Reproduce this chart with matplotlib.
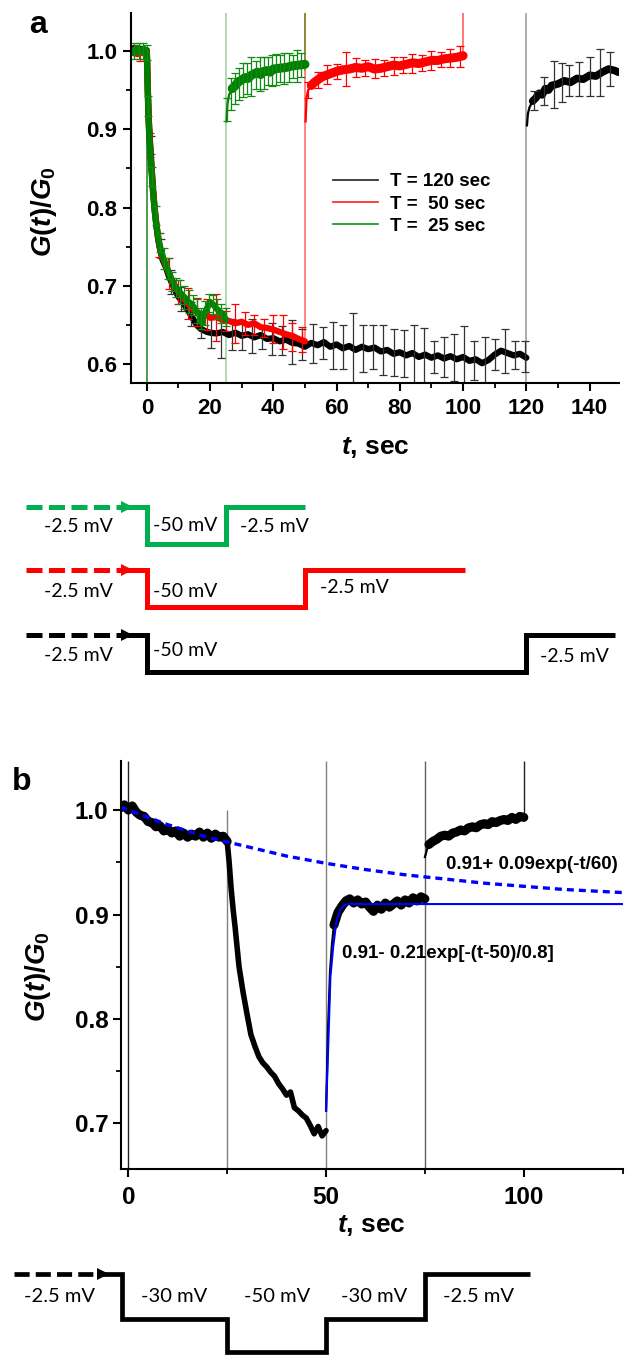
import numpy as np
import matplotlib
matplotlib.use("Agg")
from matplotlib import pyplot as plt
from matplotlib.lines import Line2D
from matplotlib.ticker import MultipleLocator, FormatStrFormatter

plt.rcParams["font.family"] = ["Liberation Sans", "DejaVu Sans"]
plt.rcParams["font.weight"] = "bold"
plt.rcParams["mathtext.fontset"] = "custom"
plt.rcParams["mathtext.rm"] = "Liberation Sans:bold"
plt.rcParams["mathtext.it"] = "Liberation Sans:italic:bold"
plt.rcParams["mathtext.bf"] = "Liberation Sans:bold"
plt.rcParams["axes.linewidth"] = 1.5

# ---- panel a: relaxation curves (T = 120, 50, 25 sec) ----
blk_drop_t = [-5, -4, -3, -2, -1, 0, 0.3, 0.6, 1, 1.5, 2, 2.5, 3, 3.5, 4,
              5, 6, 7, 8, 9, 10, 11, 12, 13, 14, 15, 16, 17, 18, 19, 20]
blk_drop_g = [1.000, 1.004, 0.997, 1.003, 0.998, 1.001, 0.955, 0.915, 0.885,
              0.852, 0.822, 0.798, 0.778, 0.762, 0.750, 0.733, 0.724, 0.712,
              0.703, 0.694, 0.686, 0.681, 0.675, 0.669, 0.662, 0.655, 0.649,
              0.645, 0.643, 0.641, 0.640]
blk_plat_t = list(range(22, 121, 2))
blk_plat_g = [0.639, 0.641, 0.637, 0.640, 0.636, 0.638, 0.634, 0.637, 0.632, 0.633,
              0.629, 0.631, 0.627, 0.626, 0.622, 0.627, 0.624, 0.628, 0.622, 0.625,
              0.620, 0.623, 0.618, 0.622, 0.619, 0.621, 0.616, 0.618, 0.613, 0.615,
              0.611, 0.614, 0.609, 0.612, 0.608, 0.611, 0.607, 0.610, 0.606, 0.609,
              0.604, 0.606, 0.601, 0.605, 0.612, 0.617, 0.614, 0.611, 0.613, 0.608]
blk_rec_t = [120.2, 120.5, 121, 122, 123, 124, 125, 126, 127, 128,
             130, 132, 134, 136, 138, 140, 142, 144, 146, 148, 149]
blk_rec_g = [0.905, 0.920, 0.928, 0.936, 0.940, 0.946, 0.944, 0.952, 0.950, 0.956,
             0.958, 0.962, 0.960, 0.965, 0.964, 0.969, 0.968, 0.973, 0.977, 0.975, 0.973]

red_drop_t = [-5, -4, -3, -2, -1, 0, 0.3, 0.6, 1, 1.5, 2, 2.5, 3, 3.5, 4,
              5, 6, 7, 8, 9, 10, 11, 12, 13, 14, 15, 16, 17, 18, 19, 20] + list(range(22, 51, 2))
red_drop_g = [0.998, 1.002, 0.996, 1.001, 0.997, 1.000, 0.950, 0.910, 0.880,
              0.850, 0.820, 0.797, 0.780, 0.765, 0.752, 0.736, 0.726, 0.716,
              0.707, 0.699, 0.692, 0.687, 0.682, 0.677, 0.672, 0.669, 0.666,
              0.664, 0.661, 0.663, 0.659,
              0.660, 0.656, 0.655, 0.652, 0.654, 0.650, 0.652, 0.647, 0.646,
              0.644, 0.641, 0.638, 0.636, 0.632, 0.629]
red_rec_t = [50.2, 50.5, 51, 52, 53, 54, 55, 56] + list(range(58, 101, 2))
red_rec_g = [0.910, 0.940, 0.950, 0.956, 0.960, 0.963, 0.966, 0.968,
             0.971, 0.974, 0.976, 0.977, 0.979, 0.978, 0.980, 0.977, 0.978, 0.980,
             0.982, 0.981, 0.983, 0.985, 0.984, 0.986, 0.988, 0.988, 0.990, 0.991,
             0.992, 0.994]

grn_drop_t = [-5, -4, -3, -2, -1, 0, 0.3, 0.6, 1, 1.5, 2, 2.5, 3, 3.5, 4,
              5, 6, 7, 8, 9, 10, 11, 12, 13, 14, 15, 16, 17, 17.5,
              18, 19, 20, 21, 22, 23, 24, 25]
grn_drop_g = [1.001, 0.997, 1.004, 0.998, 1.003, 0.999, 0.945, 0.905, 0.875,
              0.845, 0.818, 0.795, 0.778, 0.764, 0.752, 0.738, 0.727, 0.716,
              0.706, 0.699, 0.694, 0.689, 0.685, 0.680, 0.677, 0.672, 0.666,
              0.660, 0.652, 0.662, 0.671, 0.679, 0.676, 0.671, 0.667, 0.664, 0.657]
grn_rec_t = [25.2, 25.5, 26, 27, 28, 29, 30, 31, 32, 33, 34, 35, 36, 37, 38,
             39, 40, 42, 44, 46, 48, 50]
grn_rec_g = [0.910, 0.932, 0.944, 0.952, 0.956, 0.961, 0.963, 0.966, 0.965, 0.969,
             0.971, 0.973, 0.970, 0.974, 0.975, 0.973, 0.977, 0.978, 0.979, 0.981,
             0.982, 0.983]

# error bars (time, centre, half width)
blk_eb_t = [1.2, 4.4, 7.6, 10.8, 14.0, 17.2, 20.4, 23.6, 26.8, 30.0, 33.2, 36.4,
            39.6, 42.8, 46.0, 49.2, 52.4, 55.6, 58.8, 62.0, 65.2, 68.4, 71.6, 74.8,
            78.0, 81.2, 84.4, 87.6, 90.8, 94.0, 97.2, 100.4, 103.6, 106.8, 110.0,
            113.2, 116.4, 119.6, 122.3, 125.5, 128.6, 131.2, 133.6, 136.8, 140.0,
            143.2, 146.3]
blk_eb_g = [0.880, 0.748, 0.705, 0.683, 0.664, 0.646, 0.640, 0.638, 0.638, 0.636,
            0.636, 0.634, 0.632, 0.630, 0.628, 0.625, 0.626, 0.627, 0.624, 0.622,
            0.620, 0.620, 0.622, 0.618, 0.615, 0.613, 0.612, 0.611, 0.609, 0.609,
            0.608, 0.607, 0.605, 0.604, 0.612, 0.617, 0.612, 0.610,
            0.937, 0.949, 0.957, 0.960, 0.962, 0.964, 0.968, 0.973, 0.977]
blk_eb_e = [0.012, 0.012, 0.015, 0.015, 0.015, 0.013, 0.020, 0.030, 0.020, 0.018,
            0.022, 0.015, 0.020, 0.018, 0.028, 0.020, 0.025, 0.020, 0.030, 0.028,
            0.045, 0.030, 0.028, 0.032, 0.030, 0.030, 0.038, 0.035, 0.020, 0.025,
            0.030, 0.042, 0.025, 0.030, 0.020, 0.028, 0.018, 0.020,
            0.012, 0.018, 0.030, 0.025, 0.020, 0.022, 0.025, 0.030, 0.022]

red_eb_t = [-2, 1, 4, 7, 10, 13, 16, 19, 22, 25, 28, 31, 34, 37, 40, 43, 46, 49,
            51, 54, 57, 60, 63, 66, 69, 72, 75, 78, 81, 84, 87, 90, 93, 96, 99]
red_eb_g = [0.995, 0.880, 0.752, 0.716, 0.692, 0.677, 0.666, 0.663, 0.660, 0.655,
            0.652, 0.652, 0.650, 0.646, 0.645, 0.641, 0.635, 0.631,
            0.950, 0.963, 0.970, 0.974, 0.977, 0.979, 0.978, 0.978, 0.978, 0.981,
            0.982, 0.984, 0.985, 0.988, 0.989, 0.991, 0.993]
red_eb_e = [0.008, 0.015, 0.015, 0.020, 0.015, 0.020, 0.018, 0.020, 0.030, 0.013,
            0.025, 0.015, 0.013, 0.012, 0.018, 0.022, 0.018, 0.016,
            0.010, 0.010, 0.012, 0.010, 0.022, 0.012, 0.010, 0.012, 0.010, 0.012,
            0.010, 0.012, 0.010, 0.012, 0.010, 0.012, 0.013]

grn_eb_t = [-3.9, -2.6, -1.3, 0.0, 0.5, 1.5, 2.8, 4.1, 5.4, 6.7, 8.0, 9.3, 10.6,
            11.9, 13.2, 14.5, 15.8, 17.1, 18.4, 19.7, 21.0, 22.3, 23.6, 24.9,
            25.3, 26.5, 27.9, 29.2, 30.5, 31.8, 33.1, 34.4, 35.7, 37.0, 38.3, 39.6,
            40.9, 42.2, 43.5, 44.8, 46.1, 47.4, 48.7]
grn_eb_g = [1.000, 1.000, 1.000, 0.998, 0.930, 0.840, 0.790, 0.755, 0.735, 0.722,
            0.705, 0.698, 0.692, 0.685, 0.680, 0.675, 0.668, 0.658, 0.665, 0.678,
            0.676, 0.670, 0.665, 0.660,
            0.925, 0.945, 0.952, 0.958, 0.963, 0.965, 0.967, 0.969, 0.971, 0.972,
            0.974, 0.975, 0.976, 0.978, 0.978, 0.979, 0.980, 0.981, 0.982]
grn_eb_e = [0.010, 0.010, 0.010, 0.010, 0.013, 0.012, 0.012, 0.012, 0.013, 0.013,
            0.012, 0.012, 0.015, 0.015, 0.015, 0.013, 0.015, 0.013, 0.015, 0.012,
            0.012, 0.013, 0.012, 0.012,
            0.015, 0.020, 0.020, 0.020, 0.022, 0.020, 0.025, 0.018, 0.022, 0.020,
            0.018, 0.020, 0.020, 0.017, 0.020, 0.018, 0.015, 0.020, 0.015]

legend_labels = ["T = 120 sec", "T =  50 sec", "T =  25 sec"]

# ---- panel b: double-step experiment ----
b_t1 = list(range(-2, 26))
b_g1 = [1.002, 1.005, 1.000, 1.004, 0.998, 0.995, 0.994, 0.989, 0.988, 0.984,
        0.985, 0.980, 0.982, 0.978, 0.980, 0.975, 0.978, 0.974, 0.977, 0.975,
        0.979, 0.974, 0.978, 0.973, 0.977, 0.974, 0.975, 0.970]
b_t2 = [25, 25.5, 26, 26.5, 27] + list(range(28, 51))
b_g2 = [0.970, 0.950, 0.925, 0.905, 0.888, 0.850, 0.826, 0.805, 0.785, 0.774,
        0.764, 0.758, 0.754, 0.749, 0.745, 0.738, 0.733, 0.727, 0.730, 0.715,
        0.712, 0.708, 0.705, 0.698, 0.690, 0.697, 0.688, 0.693]
b_t3 = [50, 50.5, 51, 51.5, 52] + list(range(53, 76))
b_g3 = [0.712, 0.790, 0.845, 0.872, 0.890, 0.902, 0.908, 0.913, 0.915, 0.911,
        0.914, 0.910, 0.912, 0.907, 0.903, 0.909, 0.905, 0.911, 0.907, 0.910,
        0.913, 0.909, 0.914, 0.911, 0.916, 0.913, 0.917, 0.915]
b_t4 = [75, 75.5] + list(range(76, 101))
b_g4 = [0.955, 0.962, 0.967, 0.970, 0.972, 0.975, 0.976, 0.975, 0.978, 0.979,
        0.981, 0.980, 0.983, 0.984, 0.983, 0.986, 0.987, 0.986, 0.989, 0.988,
        0.990, 0.991, 0.990, 0.993, 0.991, 0.994, 0.993]

fit_slow_t = [-2, 0, 10, 20, 30, 40, 50, 60, 70, 80, 90, 100, 110, 120, 125]
fit_slow_g = [1.003, 1.000, 0.986, 0.974, 0.965, 0.956, 0.949, 0.943, 0.938,
              0.934, 0.930, 0.927, 0.924, 0.922, 0.921]
fit_fast_t = [50, 50.6, 51.1, 51.8, 52.6, 53.6, 54.6, 56, 125]
fit_fast_g = [0.712, 0.780, 0.840, 0.869, 0.893, 0.905, 0.909, 0.910, 0.910]
fit_slow_label = "0.91+ 0.09exp(-t/60)"
fit_fast_label = "0.91- 0.21exp[-(t-50)/0.8]"

# ---- voltage protocols ----
prot_a_switch = [[0, 25], [0, 50], [0, 120]]
prot_a_end = [50, 100.5, 148]
prot_a_levels = [-2.5, -50, -2.5]
prot_b_switch = [-1.5, 25, 50, 75]
prot_b_levels = [-2.5, -30, -50, -30, -2.5]
prot_b_end = 101.5

W, H = 628, 1356
fig = plt.figure(figsize=(W / 100, H / 100), dpi=100)


def px_box(left, top, right, bottom):
    return [left / W, 1 - bottom / H, (right - left) / W, (bottom - top) / H]


def style_axes(ax, size):
    for side in ["top", "right"]:
        ax.spines[side].set_visible(False)
    ax.tick_params(which="major", direction="out", length=5.8, width=1.5,
                   labelsize=size)
    ax.tick_params(which="minor", direction="out", length=3.6, width=1.3)
    ax.yaxis.set_major_formatter(FormatStrFormatter("%.1f"))


def noisy_trace(ax, t, g, color, lw, skip=0):
    # thin line through the fast part, thick band (noise) after it
    ax.plot(t, g, color=color, lw=1.6, solid_joinstyle="round")
    ax.plot(t[skip:], g[skip:], color=color, lw=lw, solid_joinstyle="round",
            solid_capstyle="round")


# ---- panel a ----
ax_a = fig.add_axes(px_box(131, 12.7, 619, 383))
ax_a.set_xlim(-5, 149.3)
ax_a.set_ylim(0.5757, 1.049)
style_axes(ax_a, 16)
ax_a.tick_params(axis="x", pad=5)
ax_a.tick_params(axis="y", pad=4)
ax_a.xaxis.set_major_locator(MultipleLocator(20))
ax_a.xaxis.set_minor_locator(MultipleLocator(10))
ax_a.yaxis.set_major_locator(MultipleLocator(0.1))
ax_a.yaxis.set_minor_locator(MultipleLocator(0.05))

y_lo, y_hi = ax_a.get_ylim()
ax_a.vlines(0, y_lo, 1.0, color="#2e8b2e", lw=1.2)
ax_a.vlines(25, y_lo, y_hi, color="#a8d0a8", lw=1.2)
ax_a.vlines(50, 0.63, y_hi, color="#ff7070", lw=1.2)
ax_a.vlines(50, 0.975, y_hi, color="#7a8a30", lw=1.2)
ax_a.vlines(100, 0.99, y_hi, color="#ff6060", lw=1.2)
ax_a.vlines(120, y_lo, y_hi, color="#a0a0a0", lw=1.2)

series = [
    ("black", "#333333", [(blk_drop_t + blk_plat_t, blk_drop_g + blk_plat_g, 4.5, 0),
                          (blk_rec_t, blk_rec_g, 5.5, 3)], (blk_eb_t, blk_eb_g, blk_eb_e)),
    ("#ff0000", "#ff0000", [(red_drop_t, red_drop_g, 4.5, 0),
                            (red_rec_t, red_rec_g, 6.5, 3)],
     (red_eb_t, red_eb_g, red_eb_e)),
    ("#008000", "#108a10", [(grn_drop_t, grn_drop_g, 4.5, 0),
                            (grn_rec_t, grn_rec_g, 6.5, 3)],
     (grn_eb_t, grn_eb_g, grn_eb_e)),
]
for color, ecolor, segments, (et, eg, ee) in series:
    for t, g, lw, skip in segments:
        noisy_trace(ax_a, t, g, color, lw, skip)
    ax_a.errorbar(et, eg, yerr=ee, fmt="none", ecolor=ecolor, elinewidth=0.9,
                  capsize=3, capthick=0.9)

ax_a.set_xlabel(r"$t$, sec", fontsize=19, fontweight="bold")
ax_a.xaxis.set_label_coords(0.5, -0.173)
ax_a.xaxis.label.set_va("center")
ax_a.set_ylabel(r"$G(t)/G_0$", fontsize=20)
ax_a.yaxis.set_label_coords(-0.178, 0.462)
ax_a.yaxis.label.set_va("center")

handles = [Line2D([], [], color=c, lw=1.3) for c in ["#333333", "#ff3030", "#20a020"]]
ax_a.legend(handles, legend_labels, loc="center left",
            bbox_to_anchor=(333 / W, 1 - 204 / H), bbox_transform=fig.transFigure,
            frameon=False, borderpad=0, borderaxespad=0, handlelength=2.4,
            handletextpad=0.65, labelspacing=0.28,
            prop={"weight": "bold", "size": 13.5})

fig.text(38 / W, 1 - 33 / H, "a", fontsize=23, fontweight="bold",
         ha="center", va="baseline")

# ---- panel b ----
ax_b = fig.add_axes(px_box(120.7, 761, 622.7, 1169.3))
ax_b.set_xlim(-1.92, 125)
ax_b.set_ylim(0.656, 1.047)
style_axes(ax_b, 17.5)
ax_b.tick_params(axis="x", pad=6)
ax_b.tick_params(axis="y", pad=3)
ax_b.xaxis.set_major_locator(MultipleLocator(50))
ax_b.xaxis.set_minor_locator(MultipleLocator(25))
ax_b.yaxis.set_major_locator(MultipleLocator(0.1))
ax_b.yaxis.set_minor_locator(MultipleLocator(0.05))

yb_lo, yb_hi = ax_b.get_ylim()
ax_b.vlines(0, yb_lo, yb_hi, color="#222222", lw=1.0)
ax_b.vlines(25, yb_lo, 1.0, color="#808080", lw=1.0)
ax_b.vlines(50, yb_lo, yb_hi, color="#808080", lw=1.0)
ax_b.vlines(75, yb_lo, yb_hi, color="#606060", lw=1.0)
ax_b.vlines(100, 0.99, yb_hi, color="#202020", lw=1.0)

for t, g, lw, skip in [(b_t1, b_g1, 6.5, 0), (b_t2, b_g2, 4.0, 0),
                       (b_t3, b_g3, 6.5, 4), (b_t4, b_g4, 6.5, 2)]:
    noisy_trace(ax_b, t, g, "black", lw, skip)
ax_b.plot(fit_slow_t, fit_slow_g, color="#0000ff", lw=2.4, dashes=(2.1, 1.5))
ax_b.plot(fit_fast_t, fit_fast_g, color="#0000ff", lw=1.5)
ax_b.text(80.4, 0.9475, fit_slow_label, fontsize=13.5, fontweight="bold",
          ha="left", va="center")
ax_b.text(54.1, 0.8631, fit_fast_label, fontsize=13.5, fontweight="bold",
          ha="left", va="center")

ax_b.set_xlabel(r"$t$, sec", fontsize=19, fontweight="bold")
ax_b.xaxis.set_label_coords(0.5, -0.137)
ax_b.xaxis.label.set_va("center")
ax_b.set_ylabel(r"$G(t)/G_0$", fontsize=20)
ax_b.yaxis.set_label_coords(-0.165, 0.471)
ax_b.yaxis.label.set_va("center")

fig.text(22 / W, 1 - 790 / H, "b", fontsize=23, fontweight="bold",
         ha="center", va="baseline")


# ---- protocol sketches, sharing the time scale of the panel above ----
def aligned_xlim(ref_ax):
    pos = ref_ax.get_position()
    x0, x1 = ref_ax.get_xlim()
    span = (x1 - x0) / pos.width
    return x0 - pos.x0 * span, x0 + (1 - pos.x0) * span


def draw_protocol(ax, switch, levels, t_end, color, lead, lw):
    xs, ys = [lead[1]], [levels[0]]
    for i, ts in enumerate(switch):
        xs += [ts, ts]
        ys += [levels[i], levels[i + 1]]
    xs.append(t_end)
    ys.append(levels[-1])
    ax.plot(xs, ys, color=color, lw=lw, solid_joinstyle="miter",
            solid_capstyle="butt", clip_on=False)
    ax.plot(lead, [levels[0]] * 2, color=color, lw=lw, dashes=(3.2, 1.3),
            dash_capstyle="butt", clip_on=False)
    ax.plot(lead[1], levels[0], marker=">", ms=9, color=color, mew=0, clip_on=False)


row_levels_px = [506.7, 570, 635]
row_colors = ["#00b050", "#ff0000", "black"]
row_labels = [
    [(-21.7, -28, "-2.5 mV"), (12.1, -27, "-50 mV"), (40.2, -28, "-2.5 mV")],
    [(-21.7, -30, "-2.5 mV"), (12.1, -29.5, "-50 mV"), (65.5, -25.5, "-2.5 mV")],
    [(-21.7, -29, "-2.5 mV"), (12.1, -22.7, "-50 mV"), (135.3, -30.4, "-2.5 mV")],
]
mv_px = 0.78
for lvl_px, color, switch, t_end, labels in zip(row_levels_px, row_colors,
                                                  prot_a_switch, prot_a_end, row_labels):
    top = lvl_px - 12.5 * mv_px
    ax_p = fig.add_axes(px_box(0, top, W, top + 70 * mv_px))
    ax_p.set_xlim(*aligned_xlim(ax_a))
    ax_p.set_ylim(-60, 10)
    ax_p.axis("off")
    draw_protocol(ax_p, switch, prot_a_levels, t_end, color, [-38.1, -6.3], 3.6)
    for t, v, s in labels:
        ax_p.text(t, v, s, fontsize=14, fontweight="normal", family="Lato",
                  ha="center", va="center")

mv_px_b = 1.64
top_b = 1274 - 7.5 * mv_px_b
ax_pb = fig.add_axes(px_box(0, top_b, W, top_b + 57.5 * mv_px_b))
ax_pb.set_xlim(*aligned_xlim(ax_b))
ax_pb.set_ylim(-52.5, 5)
ax_pb.axis("off")
draw_protocol(ax_pb, prot_b_switch, prot_b_levels, prot_b_end, "black",
              [-28.9, -6.3], 3.4)
for t, s in zip([-17.5, 11.6, 37.6, 62.1, 88.5],
                ["-2.5 mV", "-30 mV", "-50 mV", "-30 mV", "-2.5 mV"]):
    ax_pb.text(t, -16.3, s, fontsize=14.5, fontweight="normal", family="Lato",
               ha="center", va="center")

fig.savefig("out.png", dpi=100)
